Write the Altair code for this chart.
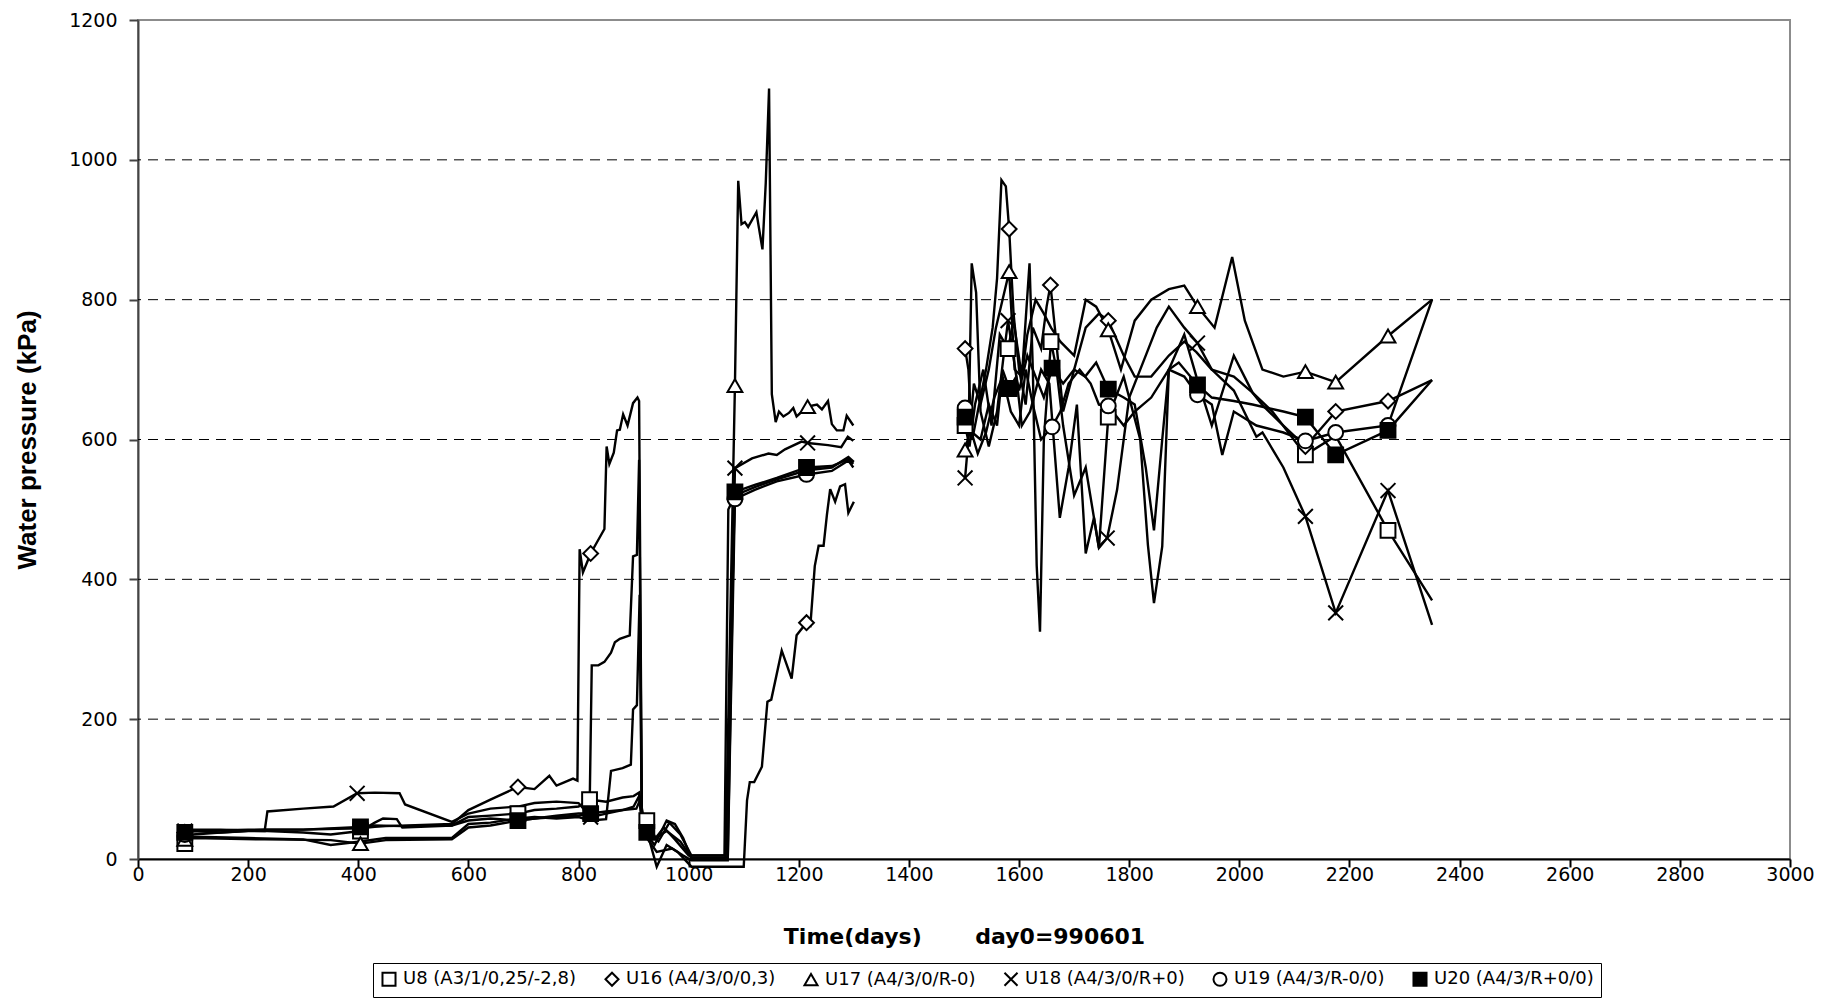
import altair as alt
import pandas as pd

SERIES = ["U8 (A3/1/0,25/-2,8)", "U16 (A4/3/0/0,3)", "U17 (A4/3/0/R-0)",
          "U18 (A4/3/0/R+0)", "U19 (A4/3/R-0/0)", "U20 (A4/3/R+0/0)"]
SHAPES = ["square", "diamond", "triangle-up", "M-1,-1L1,1M-1,1L1,-1", "circle", "square"]
FILLS = ["white", "white", "white", "white", "white", "black"]
STROKES = ["black"] * 6

X_TICKS = list(range(0, 3001, 200))
Y_TICKS = list(range(0, 1201, 200))
GRID_VALUES = [200, 400, 600, 800, 1000]

# ---- U8 ----
U8_EARLY = [(85, 22), (100, 35), (150, 38), (200, 40), (235, 40), (300, 38), (350, 35), (404, 40),
            (430, 52), (445, 58), (470, 57), (480, 45), (570, 48), (600, 60), (640, 62), (690, 65),
            (720, 70), (760, 72), (800, 75), (820, 85), (850, 82), (880, 88), (900, 90), (910, 95),
            (915, 60), (924, 55), (940, 30), (955, 45), (975, 28), (1000, 5), (1065, 5), (1072, 500),
            (1084, 520), (1120, 532), (1160, 543), (1214, 556), (1260, 560), (1290, 575), (1300, 568)]
U8_LATE = [(1502, 620), (1510, 590), (1520, 650), (1535, 700), (1550, 620), (1565, 750), (1580, 730),
           (1590, 770), (1605, 690), (1619, 852), (1625, 700), (1632, 420), (1638, 325), (1645, 600),
           (1658, 740), (1668, 700), (1680, 620), (1700, 520), (1721, 560), (1745, 445), (1762, 632),
           (1790, 690), (1820, 600), (1834, 449), (1845, 366), (1860, 447), (1872, 700), (1900, 750),
           (1922, 690), (1950, 620), (1990, 720), (2024, 667), (2060, 640), (2120, 578), (2175, 605),
           (2270, 470), (2350, 370)]
U8_MARKS = [85, 404, 690, 820, 924, 1502, 1580, 1658, 1762, 2120, 2270]

# ---- U16 ----
U16_EARLY = [(85, 38), (100, 40), (200, 42), (300, 42), (404, 44), (430, 46), (450, 47), (570, 50),
             (600, 70), (640, 85), (690, 103), (720, 100), (747, 119), (760, 105), (775, 110),
             (790, 115), (798, 112), (802, 443), (808, 410), (822, 437), (847, 472), (851, 590),
             (856, 565), (864, 581), (870, 613), (875, 614), (881, 636), (889, 620), (899, 652),
             (907, 660), (910, 655), (915, 63), (924, 40), (942, -11), (960, 20), (980, 10),
             (1005, -11), (1100, -11), (1106, 84), (1111, 110), (1119, 110), (1133, 132), (1143, 225),
             (1150, 228), (1169, 298), (1187, 258), (1196, 320), (1214, 338), (1221, 334), (1229, 419),
             (1236, 448), (1245, 448), (1251, 492), (1257, 529), (1266, 511), (1275, 533), (1284, 536),
             (1290, 495), (1300, 511)]
U16_LATE = [(1502, 730), (1508, 700), (1515, 600), (1525, 640), (1540, 700), (1552, 760), (1560, 830),
            (1568, 971), (1576, 962), (1582, 901), (1590, 780), (1600, 700), (1612, 650), (1625, 760),
            (1640, 730), (1650, 790), (1657, 821), (1665, 760), (1680, 640), (1700, 700), (1721, 760),
            (1745, 780), (1762, 770), (1790, 720), (1810, 690), (1840, 690), (1872, 720), (1900, 740),
            (1922, 725), (1950, 700), (1990, 690), (2024, 667), (2042, 649), (2080, 620), (2120, 590),
            (2175, 640), (2270, 655), (2350, 685)]
U16_MARKS = [85, 690, 822, 1214, 1502, 1582, 1657, 1762, 2120, 2175, 2270]

# ---- U17 ----
U17_EARLY = [(85, 28), (100, 30), (230, 28), (350, 27), (404, 22), (450, 27), (570, 28), (600, 45),
             (640, 48), (690, 55), (720, 58), (760, 60), (800, 62), (820, 65), (824, 277), (836, 277),
             (847, 282), (859, 295), (866, 310), (875, 315), (893, 320), (899, 433), (906, 435),
             (910, 571), (915, 45), (924, 35), (938, 20), (960, 55), (975, 50), (990, 30), (1005, 0),
             (1067, 0), (1084, 677), (1090, 970), (1096, 908), (1102, 911), (1108, 904), (1123, 925),
             (1134, 872), (1140, 967), (1146, 1102), (1151, 665), (1158, 625), (1164, 640), (1172, 633),
             (1182, 638), (1190, 645), (1196, 633), (1216, 647), (1233, 650), (1242, 643), (1253, 655),
             (1260, 622), (1269, 613), (1281, 613), (1287, 634), (1299, 620)]
U17_LATE = [(1502, 585), (1510, 610), (1518, 680), (1530, 650), (1545, 700), (1558, 760), (1570, 800),
            (1582, 840), (1592, 700), (1605, 690), (1615, 750), (1630, 800), (1645, 780), (1658, 760),
            (1675, 740), (1700, 720), (1721, 800), (1740, 790), (1762, 757), (1785, 700), (1810, 770),
            (1840, 800), (1872, 815), (1900, 820), (1924, 790), (1955, 760), (1987, 861), (2010, 770),
            (2042, 700), (2080, 690), (2120, 697), (2175, 682), (2270, 748), (2350, 800)]
U17_MARKS = [85, 404, 1084, 1216, 1502, 1582, 1762, 1924, 2120, 2175, 2270]

# ---- U18 ----
U18_EARLY = [(85, 40), (100, 42), (150, 42), (230, 40), (235, 68), (300, 72), (355, 75), (398, 94),
             (430, 95), (475, 94), (485, 78), (570, 53), (600, 65), (640, 72), (690, 75), (720, 80),
             (760, 82), (800, 80), (822, 60), (850, 65), (880, 70), (900, 75), (910, 90), (915, 50),
             (924, 45), (940, 30), (960, 40), (985, 25), (1005, 2), (1071, 2), (1084, 559), (1115, 573),
             (1145, 580), (1160, 578), (1175, 586), (1205, 597), (1216, 595), (1253, 592), (1277, 589),
             (1289, 604), (1299, 598)]
U18_LATE = [(1502, 545), (1508, 600), (1514, 852), (1522, 810), (1530, 640), (1545, 590), (1560, 640),
            (1572, 720), (1580, 770), (1595, 690), (1605, 620), (1620, 640), (1640, 700), (1655, 680),
            (1674, 488), (1690, 560), (1705, 650), (1721, 437), (1736, 488), (1745, 445), (1760, 459),
            (1778, 528), (1800, 660), (1830, 720), (1850, 760), (1872, 790), (1900, 760), (1924, 738),
            (1950, 700), (1990, 670), (2031, 604), (2042, 610), (2080, 560), (2120, 490), (2175, 352),
            (2270, 527), (2350, 335)]
U18_MARKS = [85, 398, 822, 1084, 1216, 1502, 1580, 1760, 1924, 2120, 2175, 2270]

# ---- U19 ----
U19_EARLY = [(85, 35), (100, 32), (200, 30), (300, 28), (350, 20), (404, 25), (450, 30), (570, 30),
             (600, 50), (640, 52), (690, 58), (720, 60), (760, 58), (800, 60), (822, 55), (850, 57),
             (859, 126), (880, 130), (895, 135), (899, 214), (906, 220), (911, 378), (915, 40), (924, 30),
             (942, 10), (970, 15), (990, 5), (1005, -2), (1071, -2), (1084, 515), (1120, 528), (1160, 540),
             (1214, 550), (1260, 555), (1290, 570), (1299, 560)]
U19_LATE = [(1502, 645), (1510, 620), (1525, 580), (1540, 610), (1555, 660), (1570, 690), (1585, 640),
            (1600, 620), (1612, 700), (1625, 650), (1640, 600), (1660, 618), (1675, 640), (1690, 680),
            (1710, 700), (1730, 680), (1745, 650), (1762, 648), (1790, 620), (1810, 640), (1840, 660),
            (1872, 700), (1900, 690), (1924, 664), (1950, 650), (1969, 578), (1990, 640), (2031, 620),
            (2080, 610), (2120, 598), (2175, 610), (2270, 620), (2350, 800)]
U19_MARKS = [85, 1084, 1214, 1502, 1660, 1762, 1924, 2120, 2175, 2270]

# ---- U20 ----
U20_EARLY = [(85, 38), (100, 40), (150, 38), (230, 42), (300, 42), (404, 46), (430, 48), (480, 47),
             (570, 48), (600, 55), (640, 58), (690, 55), (720, 58), (760, 62), (800, 65), (822, 65),
             (850, 68), (880, 70), (905, 72), (912, 85), (918, 60), (924, 38), (945, 25), (965, 52),
             (985, 35), (1005, 5), (1067, 5), (1084, 525), (1120, 535), (1160, 545), (1214, 560),
             (1260, 562), (1290, 572), (1299, 565)]
U20_LATE = [(1502, 632), (1515, 610), (1530, 600), (1545, 650), (1560, 620), (1570, 700), (1582, 673),
            (1595, 690), (1600, 670), (1615, 720), (1630, 690), (1645, 660), (1660, 702), (1680, 680),
            (1700, 700), (1720, 690), (1740, 710), (1762, 672), (1790, 660), (1810, 650), (1830, 560),
            (1845, 470), (1860, 600), (1872, 700), (1890, 710), (1924, 678), (1950, 660), (1990, 655),
            (2024, 650), (2080, 640), (2120, 632), (2175, 578), (2270, 613), (2350, 685)]
U20_MARKS = [85, 404, 690, 822, 924, 1084, 1214, 1502, 1582, 1660, 1762, 1924, 2120, 2175, 2270]

ALL = [
    (U8_EARLY, U8_LATE, U8_MARKS),
    (U16_EARLY, U16_LATE, U16_MARKS),
    (U17_EARLY, U17_LATE, U17_MARKS),
    (U18_EARLY, U18_LATE, U18_MARKS),
    (U19_EARLY, U19_LATE, U19_MARKS),
    (U20_EARLY, U20_LATE, U20_MARKS),
]

line_rows, pt_rows = [], []
for name, (early, late, marks) in zip(SERIES, ALL):
    for si, seg in enumerate([early, late]):
        for d, v in seg:
            line_rows.append({"series": name, "key": f"{name}|{si}", "day": d, "kPa": v})
    lookup = dict(early + late)
    for d in marks:
        pt_rows.append({"series": name, "day": d, "kPa": lookup[d]})
line_df = pd.DataFrame(line_rows)
pt_df = pd.DataFrame(pt_rows)
grid_df = pd.DataFrame({"kPa": GRID_VALUES})

x_axis = alt.Axis(values=X_TICKS, format="d",
                  title="Time(days)" + "\u00a0" * 7 + "day0=990601",
                  titleFont="DejaVu Sans", titleFontSize=22, titleFontWeight="bold",
                  titleColor="black", titlePadding=42,
                  labelFont="DejaVu Sans", labelFontSize=19, labelColor="black",
                  labelPadding=-2, tickSize=8, tickColor="black", tickWidth=2,
                  domainColor="black", domainWidth=2, grid=False,
                  labelFlush=False, labelOverlap=False)
y_axis = alt.Axis(values=Y_TICKS, format="d", title="Water pressure (kPa)",
                  titleFont="Liberation Sans", titleFontSize=26, titleFontWeight="bold",
                  titleColor="black", titlePadding=28,
                  labelFont="DejaVu Sans", labelFontSize=19, labelColor="black",
                  labelPadding=12, tickSize=9, tickColor="#444444", tickWidth=2,
                  domainColor="#444444", domainWidth=2, grid=False, labelOverlap=False)

x_enc = alt.X("day:Q", scale=alt.Scale(domain=[0, 3000], nice=False, zero=False), axis=x_axis)
y_enc = alt.Y("kPa:Q", scale=alt.Scale(domain=[0, 1200], nice=False), axis=y_axis)

grid = alt.Chart(grid_df).mark_rule(color="black", strokeWidth=1, strokeDash=[10, 7]).encode(
    y=y_enc
)

lines = alt.Chart(line_df).mark_line(color="black", strokeWidth=2.4).encode(
    x=x_enc, y=y_enc, detail="key:N"
)

leg = alt.Legend(title=None, orient="none", legendX=235, legendY=943, direction="horizontal",
                 labelFont="DejaVu Sans", labelFontSize=18, labelColor="black",
                 symbolSize=170, symbolStrokeWidth=2, symbolStrokeColor="black",
                 strokeColor="black", fillColor="white", padding=7, columnPadding=24,
                 labelOffset=5, labelLimit=400)

pts = alt.Chart(pt_df).mark_point(filled=True, size=220, stroke="black", strokeWidth=2,
                                  opacity=1).encode(
    x=x_enc, y=y_enc,
    shape=alt.Shape("series:N", scale=alt.Scale(domain=SERIES, range=SHAPES), legend=leg),
    fill=alt.Fill("series:N", scale=alt.Scale(domain=SERIES, range=FILLS), legend=leg),
    stroke=alt.Stroke("series:N", scale=alt.Scale(domain=SERIES, range=STROKES), legend=leg),
)

chart = alt.layer(grid, lines, pts).properties(
    width=1652, height=839,
    autosize=alt.AutoSizeParams(type="none"),
    padding={"left": 130, "top": 12, "right": 40, "bottom": 140},
    background="white",
).configure_view(stroke="#8c8c8c", strokeWidth=2)

chart.save("out.html", embed_options={"renderer": "svg", "actions": False})
